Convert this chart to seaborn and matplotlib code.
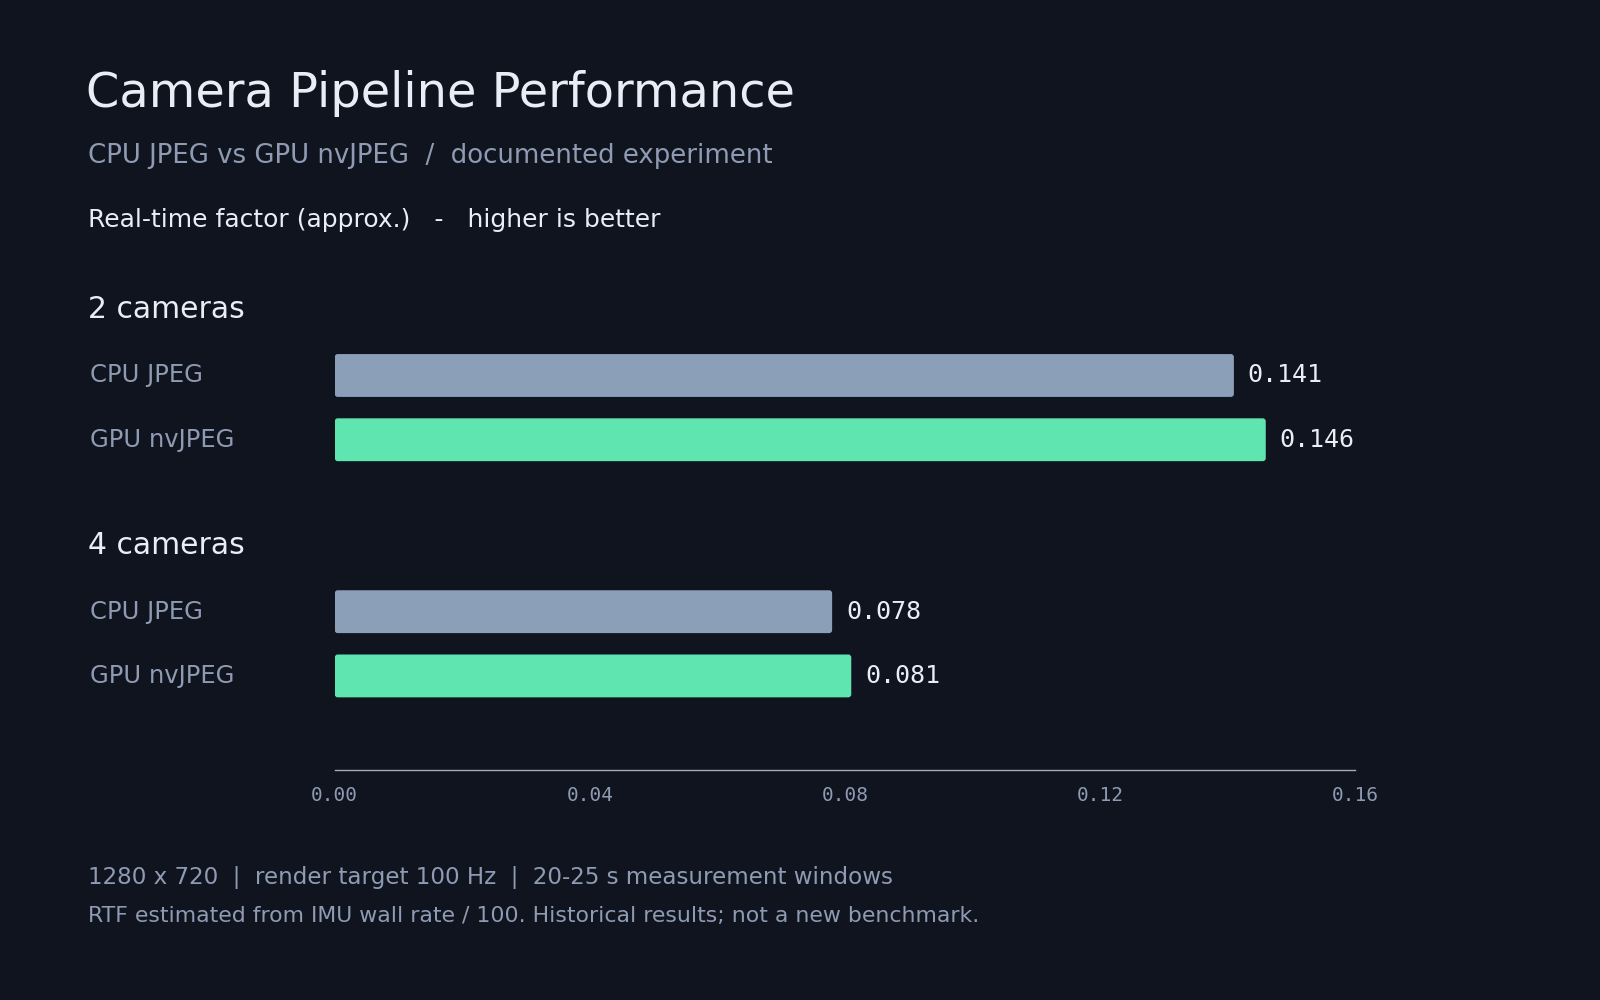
import pandas as pd
import matplotlib.pyplot as plt
import seaborn as sns
from matplotlib.patches import FancyBboxPatch
from matplotlib.transforms import blended_transform_factory

# Data
cameras = ["2 cameras", "4 cameras"]
methods = ["CPU JPEG", "GPU nvJPEG"]
cpu_rtf = [0.141, 0.078]
gpu_rtf = [0.146, 0.081]
xticks = [0.00, 0.04, 0.08, 0.12, 0.16]

bg = "#10141f"
white = "#e9edf5"
gray = "#8e9bb3"
colors = {"CPU JPEG": "#8c9fb9", "GPU nvJPEG": "#5ee5b0"}

rows = []
for i, cam in enumerate(cameras):
    rows.append({"cameras": cam, "method": "CPU JPEG", "rtf": cpu_rtf[i]})
    rows.append({"cameras": cam, "method": "GPU nvJPEG", "rtf": gpu_rtf[i]})
df = pd.DataFrame(rows)

sns.set_theme(style="dark", rc={"axes.facecolor": bg, "figure.facecolor": bg})
plt.rcParams['font.family'] = ['DejaVu Sans']

fig = plt.figure(figsize=(16, 10), dpi=100)
ax = fig.add_axes([0.2092, 0.2296, 0.8469 - 0.2092, 0.7341 - 0.2296])

width = 0.544
sns.barplot(data=df, x="rtf", y="cameras", hue="method", orient="h",
            palette=colors, width=width, gap=0.333, legend=False, ax=ax,
            saturation=1)

ax.set_xlim(0, 0.16)
ax.set_ylim(1.536, -0.6)

# value labels
for cont in ax.containers:
    ax.bar_label(cont, fmt="%.3f", padding=10, color=white, fontsize=18,
                 family="DejaVu Sans Mono")

# rounded bar ends
fig.canvas.draw()
pos = ax.get_position()
fw, fh = fig.get_size_inches() * fig.dpi
x_per_px = 0.16 / (pos.width * fw)
y_per_px = (1.536 + 0.6) / (pos.height * fh)
r = 3 * x_per_px
for p in list(ax.patches):
    x0, y0, w, h = p.get_x(), p.get_y(), p.get_width(), p.get_height()
    fc = p.get_facecolor()
    p.remove()
    ax.add_patch(FancyBboxPatch((x0, y0), w, h,
                                boxstyle=f"round,pad=0,rounding_size={r}",
                                mutation_aspect=y_per_px / x_per_px,
                                facecolor=fc, edgecolor="none"))

# axis styling
for s in ["top", "right", "left"]:
    ax.spines[s].set_visible(False)
ax.spines["bottom"].set_color("#a3abbb")
ax.spines["bottom"].set_linewidth(1.0)
ax.set_xticks(xticks)
ax.set_xticklabels([f"{t:.2f}" for t in xticks], family="DejaVu Sans Mono",
                   fontsize=14, color=gray)
ax.tick_params(axis="x", length=0, pad=11)
ax.set_yticks([])
ax.set_xlabel("")
ax.set_ylabel("")
ax.grid(False)

# group headers and row labels
tr = blended_transform_factory(fig.transFigure, ax.transData)
off = width / 4
for i, cam in enumerate(cameras):
    ax.text(0.0548, i - 0.417, cam, transform=tr, color=white, fontsize=21.5,
            va="center", ha="left")
    ax.text(0.0561, i - off, methods[0], transform=tr, color=gray,
            fontsize=17.5, va="center", ha="left")
    ax.text(0.0561, i + off, methods[1], transform=tr, color=gray,
            fontsize=17.5, va="center", ha="left")

# titles and notes
fig.text(0.0536, 0.893, "Camera Pipeline Performance", color=white,
         fontsize=34.5, va="baseline")
fig.text(0.0548, 0.837, "CPU JPEG vs GPU nvJPEG  /  documented experiment",
         color=gray, fontsize=18.7, va="baseline")
fig.text(0.0548, 0.773, "Real-time factor (approx.)   -   higher is better",
         color=white, fontsize=18, va="baseline")
fig.text(0.0548, 0.116,
         "1280 x 720  |  render target 100 Hz  |  20-25 s measurement windows",
         color=gray, fontsize=16.6, va="baseline")
fig.text(0.0548, 0.0776,
         "RTF estimated from IMU wall rate / 100. Historical results; not a new benchmark.",
         color=gray, fontsize=15.8, va="baseline")

fig.savefig("out.png", dpi=100, facecolor=bg)
